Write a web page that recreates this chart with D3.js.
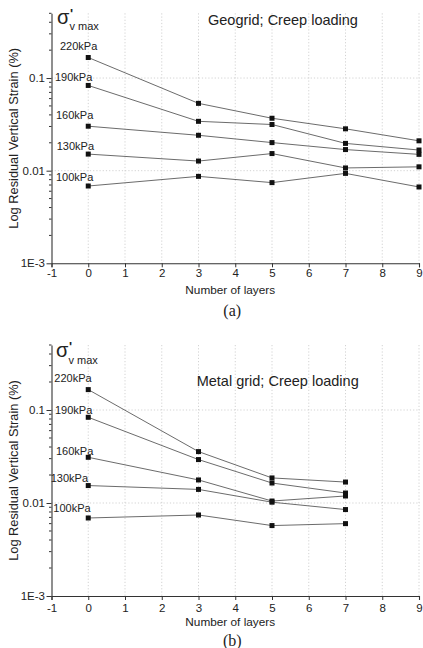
<!DOCTYPE html>
<html>
<head>
<meta charset="utf-8">
<script src="https://cdn.jsdelivr.net/npm/d3@7"></script>
<style>
  html, body { margin: 0; padding: 0; background: #fff; }
  svg { display: block; font-family: "Liberation Sans", Arial, sans-serif; }
</style>
</head>
<body>
<svg id="chart" width="423" height="648"></svg>
<script>
// ---------- data ----------
const xTicks = [-1, 0, 1, 2, 3, 4, 5, 6, 7, 8, 9];
const xTickLabels = ["-1", "0", "1", "2", "3", "4", "5", "6", "7", "8", "9"];
const yTickValues = [0.001, 0.01, 0.1];
const yTickLabels = ["1E-3", "0.01", "0.1"];
const stressLabels = ["220kPa", "190kPa", "160kPa", "130kPa", "100kPa"];

// Geogrid; Creep loading (panel a)
const geoLayers = [0, 3, 5, 7, 9];
const geo220 = [0.1666, 0.0533, 0.0368, 0.0283, 0.0210];
const geo190 = [0.0832, 0.0341, 0.0315, 0.0197, 0.0167];
const geo160 = [0.0302, 0.0241, 0.0201, 0.0169, 0.0150];
const geo130 = [0.0151, 0.0127, 0.0153, 0.0107, 0.0110];
const geo100 = [0.00683, 0.00868, 0.00743, 0.00935, 0.00667];

// Metal grid; Creep loading (panel b)
const metLayers = [0, 3, 5, 7];
const met220 = [0.1657, 0.0357, 0.0186, 0.0168];
const met190 = [0.0835, 0.0293, 0.0164, 0.0128];
const met160 = [0.0310, 0.0177, 0.0105, 0.0119];
const met130 = [0.0154, 0.0140, 0.0102, 0.0085];
const met100 = [0.0069, 0.00743, 0.00572, 0.0060];

const panels = [
  {
    title: "Geogrid; Creep loading", caption: "(a)",
    layers: geoLayers, series: [geo220, geo190, geo160, geo130, geo100],
    top: 13.3, bottom: 263.3,
    titlePos: [208, 25],
    sigma: [57, 23.5],
    labelPos: [[60, 46], [55, 77.3], [56, 115], [56.7, 145.7], [56, 176.7]],
    tickLabelY: 277, axisTitleY: 294, captionY: 316
  },
  {
    title: "Metal grid; Creep loading", caption: "(b)",
    layers: metLayers, series: [met220, met190, met160, met130, met100],
    top: 345, bottom: 596,
    titlePos: [196.7, 385.8],
    sigma: [56, 357],
    labelPos: [[54.3, 378.3], [55, 410], [56, 450.7], [50.7, 478.3], [53.3, 508]],
    tickLabelY: 611.5, axisTitleY: 626, captionY: 645.5
  }
];

const svg = d3.select("#chart");
const left = 51.5, right = 419;
const axisColor = "#333";

panels.forEach(p => {
  const g = svg.append("g");
  const x = d3.scaleLinear().domain([-1, 9]).range([left, right]);
  const y = d3.scaleLog().domain([0.001, 0.5]).range([p.bottom, p.top]);

  // grid
  g.append("g").selectAll("line").data(xTicks.filter(t => t > -1)).join("line")
    .attr("x1", d => x(d)).attr("x2", d => x(d))
    .attr("y1", p.top).attr("y2", p.bottom)
    .attr("stroke", "#c8c8c8").attr("stroke-width", 0.8).attr("stroke-dasharray", "1.2,2");
  g.append("g").selectAll("line").data(yTickValues.filter(v => v > 0.001)).join("line")
    .attr("x1", left).attr("x2", right + 1)
    .attr("y1", d => y(d)).attr("y2", d => y(d))
    .attr("stroke", "#c8c8c8").attr("stroke-width", 0.8).attr("stroke-dasharray", "1.2,2");

  // x axis
  const xAxis = d3.axisBottom(x).tickValues(xTicks).tickFormat((d, i) => xTickLabels[i])
    .tickSize(4).tickPadding(2);
  const xg = g.append("g").attr("transform", `translate(0,${p.bottom})`).call(xAxis);
  xg.select(".domain").attr("stroke", axisColor).attr("stroke-width", 1.1);
  xg.selectAll(".tick line").attr("stroke", axisColor);
  xg.selectAll(".tick text").attr("font-size", 11.5).attr("fill", "#222")
    .attr("dy", null).attr("y", p.tickLabelY - p.bottom);

  // y axis (major)
  const yAxis = d3.axisLeft(y).tickValues(yTickValues)
    .tickFormat((d, i) => yTickLabels[i]).tickSize(5).tickPadding(1.5).tickSizeOuter(0);
  const yg = g.append("g").attr("transform", `translate(${left},0)`).call(yAxis);
  yg.select(".domain").attr("stroke", axisColor).attr("stroke-width", 1.1);
  yg.selectAll(".tick line").attr("stroke", axisColor);
  yg.selectAll(".tick text").attr("font-size", 11.5).attr("fill", "#222");

  // y minor ticks
  const minors = [];
  [0.001, 0.01, 0.1].forEach(dec => {
    for (let m = 2; m <= 9; m++) {
      const v = dec * m;
      if (v <= 0.5 + 1e-9) minors.push(v);
    }
  });
  g.append("g").selectAll("line").data(minors).join("line")
    .attr("x1", left - 2.5).attr("x2", left)
    .attr("y1", d => y(d)).attr("y2", d => y(d))
    .attr("stroke", axisColor).attr("stroke-width", 1);

  // y axis title
  g.append("text")
    .attr("transform", `translate(17.5,${(p.top + p.bottom) / 2}) rotate(-90)`)
    .attr("text-anchor", "middle").attr("font-size", 12.8).attr("fill", "#222")
    .text("Log Residual Vertical Strain (%)");

  // x axis title
  g.append("text").attr("x", (left + right) / 2 - 5).attr("y", p.axisTitleY)
    .attr("text-anchor", "middle").attr("font-size", 11.8).attr("fill", "#222")
    .text("Number of layers");

  // caption
  g.append("text").attr("x", (left + right) / 2 - 3).attr("y", p.captionY)
    .attr("text-anchor", "middle").attr("font-size", 16)
    .attr("font-family", "'Liberation Serif', 'Times New Roman', serif").attr("fill", "#222")
    .text(p.caption);

  // panel title
  g.append("text").attr("x", p.titlePos[0]).attr("y", p.titlePos[1])
    .attr("font-size", 14.5).attr("fill", "#222").text(p.title);

  // sigma label
  g.append("text").attr("x", p.sigma[0]).attr("y", p.sigma[1]).attr("fill", "#222")
    .attr("font-size", 20).text("σ");
  g.append("text").attr("x", p.sigma[0] + 13).attr("y", p.sigma[1] - 6).attr("fill", "#222")
    .attr("font-size", 13).attr("font-weight", "bold").text("'");
  g.append("text").attr("x", p.sigma[0] + 12.5).attr("y", p.sigma[1] + 6.5).attr("fill", "#222")
    .attr("font-size", 11).text("v max");

  // series
  const line = d3.line().x((d, i) => x(p.layers[i])).y(d => y(d));
  p.series.forEach((s, si) => {
    g.append("path").datum(s).attr("d", line)
      .attr("fill", "none").attr("stroke", "#5a5a5a").attr("stroke-width", 0.9);
    g.append("g").selectAll("rect").data(s).join("rect")
      .attr("x", (d, i) => x(p.layers[i]) - 2.5).attr("y", d => y(d) - 2.5)
      .attr("width", 5).attr("height", 5).attr("fill", "#111");
    g.append("text").attr("x", p.labelPos[si][0]).attr("y", p.labelPos[si][1] + 4)
      .attr("font-size", 11).attr("fill", "#222").text(stressLabels[si]);
  });
});
</script>
</body>
</html>
